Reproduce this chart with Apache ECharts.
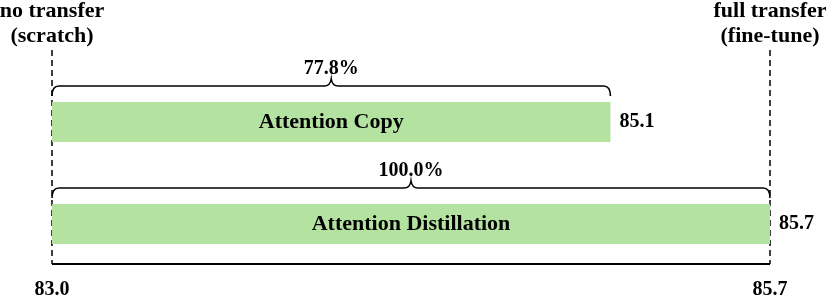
<!DOCTYPE html>
<html>
<head>
<meta charset="utf-8">
<script src="https://cdn.jsdelivr.net/npm/echarts@6/dist/echarts.min.js"></script>
<style>html,body{margin:0;padding:0;background:#fff}#c{width:830px;height:298px}</style>
</head>
<body>
<div id="c"></div>
<script>
const categories = ['Attention Copy', 'Attention Distillation'];
const values = [85.1, 85.7];
const axisMin = 83.0;
const axisMax = 85.7;
const tickValues = [83.0, 85.7];
const percentLabels = ['77.8%', '100.0%'];
const endLabelsLeft = ['no transfer', '(scratch)'];
const endLabelsRight = ['full transfer', '(fine-tune)'];

const FONT = '"Liberation Serif", "Times New Roman", serif';
const chart = echarts.init(document.getElementById('c'), null, {renderer: 'canvas'});

const BAR_H = 40;

chart.setOption({
  animation: false,
  backgroundColor: '#fff',
  grid: {left: 52, right: 60, top: 71, bottom: 23, containLabel: false, outerBoundsMode: 'none'},
  xAxis: {
    type: 'value', min: axisMin, max: axisMax,
    splitLine: {show: false},
    axisTick: {show: false},
    axisLine: {show: false},
    axisLabel: {
      customValues: tickValues, margin: 5,
      fontFamily: FONT, fontWeight: 'bold', fontSize: 20, color: '#000',
      formatter: v => Number(v).toFixed(1)
    }
  },
  yAxis: {
    type: 'category', data: categories, inverse: true, show: false
  },
  series: [
    {
      type: 'bar', barWidth: BAR_H,
      data: values,
      itemStyle: {color: '#b4e3a1'},
      label: {
        show: true, position: 'inside', formatter: '{b}',
        fontFamily: FONT, fontWeight: 'bold', fontSize: 22, color: '#000'
      }
    },
    {
      type: 'custom',
      data: values.map((v, i) => [v, i]),
      renderItem: function (params, api) {
        const v = api.value(0), ci = api.value(1);
        const s = api.coord([axisMin, ci]);
        const e = api.coord([v, ci]);
        const cy = s[1];
        const x0 = s[0], x1 = e[0], xm = (x0 + x1) / 2;
        const y = cy - BAR_H / 2 - 16;
        const r = 7;
        const d = 'M' + x0 + ',' + (y + 10) +
          ' Q' + x0 + ',' + y + ' ' + (x0 + r) + ',' + y +
          ' L' + (xm - 7) + ',' + y +
          ' Q' + (xm - 1) + ',' + y + ' ' + xm + ',' + (y - 7) +
          ' Q' + (xm + 1) + ',' + y + ' ' + (xm + 7) + ',' + y +
          ' L' + (x1 - r) + ',' + y +
          ' Q' + x1 + ',' + y + ' ' + x1 + ',' + (y + 10);
        return {
          type: 'group',
          children: [
            {type: 'path', shape: {pathData: d}, style: {fill: null, stroke: '#000', lineWidth: 1.6}},
            {type: 'text', style: {x: xm, y: cy - 53, text: percentLabels[params.dataIndex], align: 'center', verticalAlign: 'middle',
              font: 'bold 20px ' + FONT, fill: '#000'}},
            {type: 'text', style: {x: x1 + 9, y: cy, text: v.toFixed(1), align: 'left', verticalAlign: 'middle',
              font: 'bold 20px ' + FONT, fill: '#000'}}
          ]
        };
      },
      z: 5
    }
  ]
});

const xl = chart.convertToPixel({xAxisIndex: 0}, axisMin);
const xr = chart.convertToPixel({xAxisIndex: 0}, axisMax);
const textStyle = {font: 'bold 22px ' + FONT, fill: '#000', align: 'center', verticalAlign: 'middle'};
chart.setOption({
  graphic: [
    {type: 'line', shape: {x1: xl, y1: 50, x2: xl, y2: 264}, style: {stroke: '#000', lineWidth: 1.5, lineDash: [6, 4]}},
    {type: 'line', shape: {x1: xr, y1: 50, x2: xr, y2: 264}, style: {stroke: '#000', lineWidth: 1.5, lineDash: [6, 4]}},
    {type: 'line', shape: {x1: xl, y1: 264, x2: xr, y2: 264}, style: {stroke: '#000', lineWidth: 2}},
    {type: 'text', style: Object.assign({x: xl, y: 11, text: endLabelsLeft[0]}, textStyle)},
    {type: 'text', style: Object.assign({x: xl, y: 36, text: endLabelsLeft[1]}, textStyle)},
    {type: 'text', style: Object.assign({x: xr, y: 11, text: endLabelsRight[0]}, textStyle)},
    {type: 'text', style: Object.assign({x: xr, y: 36, text: endLabelsRight[1]}, textStyle)}
  ]
});
</script>
</body>
</html>
